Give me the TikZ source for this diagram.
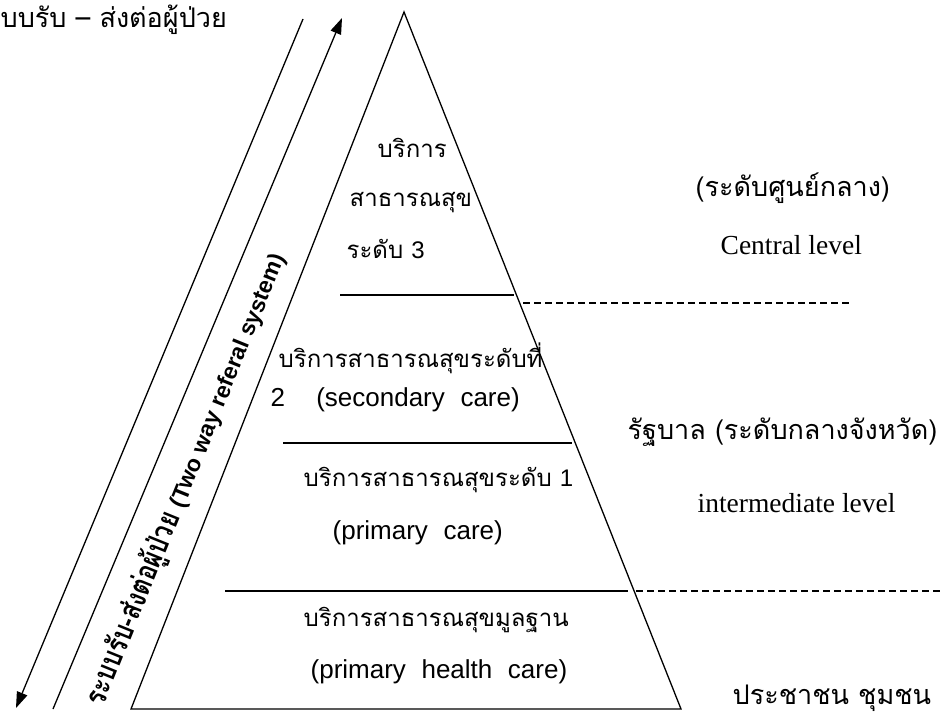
\documentclass[tikz,border=0pt]{standalone}
\usepackage{fontspec}
\setmainfont{Liberation Serif}
\newfontfamily\thai[Script=Thai]{Loma}
\newfontfamily\thaicond[Script=Thai,FakeStretch=0.8]{Loma}
\newfontfamily\nsans{Liberation Sans}
\usetikzlibrary{arrows.meta}
\begin{document}
\begin{tikzpicture}[x=1pt,y=-1pt,line width=1.3pt,
  thaitxt/.style={font=\thai\fontsize{24}{28}\selectfont,inner sep=0pt,anchor=west},
  thaibig/.style={font=\thai\fontsize{27}{32}\selectfont,inner sep=0pt,anchor=west},
  engtxt/.style={font=\nsans\fontsize{26}{30}\selectfont,inner sep=0pt,anchor=west},
  sertxt/.style={font=\fontsize{27.5}{32}\selectfont,inner sep=0pt,anchor=west},
  dashline/.style={line width=1.1pt,dash pattern=on 7pt off 4pt},
  tip/.style={-{Triangle[length=16pt,width=11pt]}}]
\useasboundingbox (0,0) rectangle (941,720);
% pyramid
\coordinate (apex) at (404,12);
\coordinate (bl) at (131,709);
\coordinate (br) at (681,709);
\draw (bl) -- (apex) -- (br) -- cycle;
% level separators
\coordinate (s1a) at (340,295); \coordinate (s1b) at (514,295);
\coordinate (d1a) at (523,303); \coordinate (d1b) at (850,303);
\coordinate (s2a) at (283,443); \coordinate (s2b) at (572,443);
\coordinate (s3a) at (225,591); \coordinate (s3b) at (628,591);
\coordinate (d3a) at (636,591); \coordinate (d3b) at (941,591);
\draw (s1a) -- (s1b);
\draw[dashline] (d1a) -- (d1b);
\draw (s2a) -- (s2b);
\draw (s3a) -- (s3b);
\draw[dashline] (d3a) -- (d3b);
% two-way arrows
\coordinate (a1s) at (303,19); \coordinate (a1e) at (16,708);
\coordinate (a2s) at (53,709); \coordinate (a2e) at (342,18);
\draw[tip] (a1s) -- (a1e);
\draw[tip] (a2s) -- (a2e);
% rotated label
\node[rotate=68,inner sep=0pt] (ref) at (186,479)
  {{\thaicond\bfseries\fontsize{30}{34}\selectfont ระบบรับ-ส่งต่อผู้ป่วย }{\nsans\bfseries\fontsize{23}{27}\selectfont (Two way referal system)}};
% top-left caption
\node[thaibig] (cap) at (0,20) {บบรับ – ส่งต่อผู้ป่วย};
% level 3
\node[thaitxt] (l3a) at (377,148) {บริการ};
\node[thaitxt] (l3b) at (349,203) {สาธารณสุข};
\node[thaitxt] (l3c) at (346,249) {ระดับ {\nsans 3}};
% level 2
\node[thaitxt] (l2a) at (278,358) {บริการสาธารณสุขระดับที่};
\node[engtxt] (l2b) at (270,400) {2\hspace{1.2em}(secondary\hspace{0.6em}care)};
% level 1
\node[thaitxt] (l1a) at (303,480) {บริการสาธารณสุขระดับ {\nsans 1}};
\node[engtxt] (l1b) at (332,533) {(primary\hspace{0.6em}care)};
% primary health care
\node[thaitxt] (l0a) at (303,620) {บริการสาธารณสุขมูลฐาน};
\node[engtxt] (l0b) at (310,672) {(primary\hspace{0.6em}health\hspace{0.6em}care)};
% right labels
\node[thaibig] (r1) at (695,188) {(ระดับศูนย์กลาง)};
\node[sertxt] (r2) at (720,245) {Central level};
\node[thaibig] (r3) at (627,432) {รัฐบาล (ระดับกลางจังหวัด)};
\node[sertxt] (r4) at (697,503) {intermediate level};
\node[thaibig] (r5) at (732,698) {ประชาชน ชุมชน};
\end{tikzpicture}
\end{document}
